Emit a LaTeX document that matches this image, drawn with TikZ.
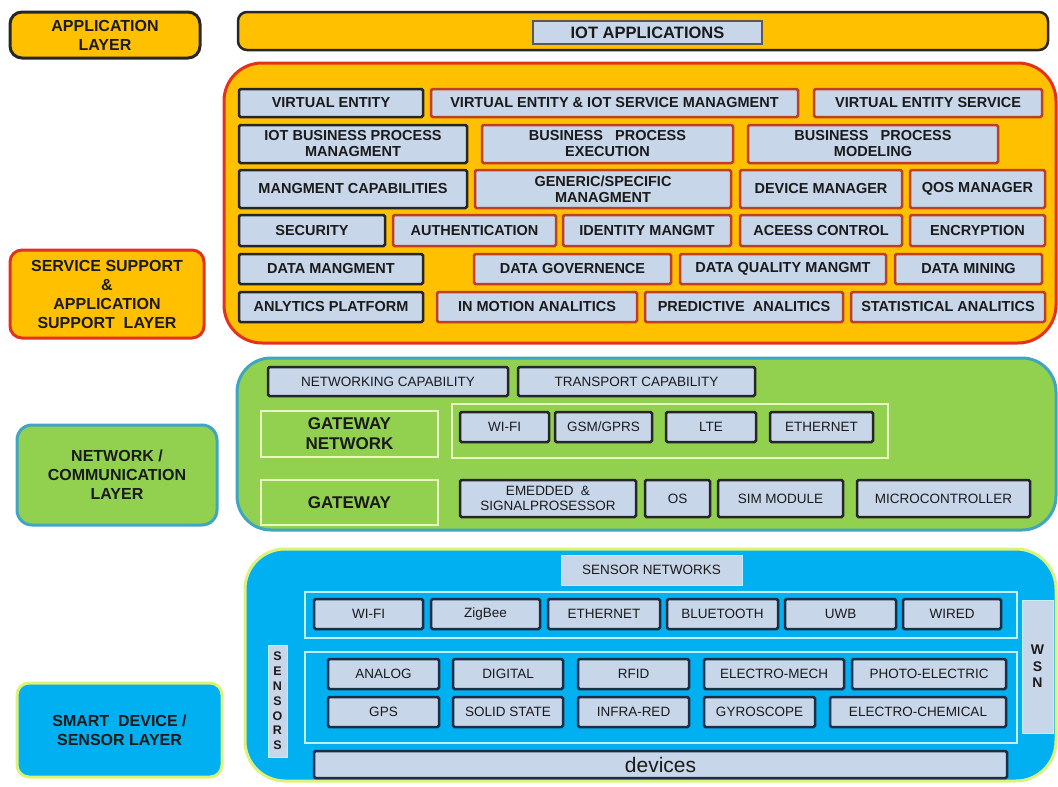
\documentclass[tikz,border=0pt]{standalone}
\usepackage{fontspec}
\setmainfont{Liberation Sans}
\definecolor{orangefill}{HTML}{FFC000}
\definecolor{redline}{HTML}{E2321C}
\definecolor{redbox}{HTML}{BE3F22}
\definecolor{darkline}{HTML}{262626}
\definecolor{greenfill}{HTML}{92D050}
\definecolor{tealline}{HTML}{3FA6C2}
\definecolor{bluefill}{HTML}{00B0F0}
\definecolor{limeline}{HTML}{DCF27A}
\definecolor{boxblue}{HTML}{C8D6EA}
\definecolor{paleline}{HTML}{EAF7C2}
\definecolor{cyanline}{HTML}{C2EEFA}
\definecolor{navyline}{HTML}{1B2E45}
\definecolor{textdark}{HTML}{1A1A1A}

% place a rectangular node by its corner coordinates
\newcommand{\bx}[7]{%
  \node[#2, minimum width={#5-#3}, minimum height={#6-#4}]
    (#1) at ({(#3+#5)/2},{(#4+#6)/2}) {#7};}

\begin{document}
\begin{tikzpicture}[x=1pt,y=-1pt,
  every node/.style={inner sep=0pt, outer sep=0pt, align=center, text=textdark},
  layerlabel/.style={rounded corners=12pt, line width=3pt,
    font=\fontsize{16}{19}\selectfont\bfseries},
  layerbox/.style={rounded corners=38pt, line width=3pt},
  svcdark/.style={fill=boxblue, draw=darkline, line width=2.5pt, rounded corners=1.5pt,
    font=\fontsize{14.5}{16}\selectfont\bfseries},
  svcred/.style={svcdark, draw=redbox},
  netbox/.style={fill=boxblue, draw=darkline, line width=2.5pt, rounded corners=1.5pt,
    font=\fontsize{13.5}{15}\selectfont},
  gwframe/.style={draw=paleline, line width=2pt,
    font=\fontsize{17}{20}\selectfont\bfseries},
  senbox/.style={fill=boxblue, draw=navyline, line width=2.5pt, rounded corners=1.5pt,
    font=\fontsize{13.5}{15}\selectfont},
  senframe/.style={draw=cyanline, line width=2.5pt},
  tab/.style={fill=boxblue, draw=cyanline, line width=1pt,
    font=\fontsize{13.5}{15}\selectfont},
  vtab/.style={fill=boxblue, draw=cyanline, line width=1pt,
    font=\fontsize{14}{16.5}\selectfont\bfseries}
]
\useasboundingbox[fill=white] (0,0) rectangle (1058,787);

% ---------------- layer names ----------------
\bx{appl}{layerlabel, fill=orangefill, draw=darkline}{10}{12}{200}{58}{APPLICATION\\LAYER}
\bx{svcl}{layerlabel, fill=orangefill, draw=redline}{10}{250}{204}{338}{SERVICE SUPPORT\\\&\\APPLICATION\\SUPPORT\ \ LAYER}
\bx{netl}{layerlabel, fill=greenfill, draw=tealline, rounded corners=15pt}{17}{425}{217}{525}{NETWORK /\\COMMUNICATION\\LAYER}
\bx{devl}{layerlabel, fill=bluefill, draw=limeline}{17}{683}{222}{777}{SMART\ \ DEVICE /\\SENSOR LAYER}

% ---------------- application layer ----------------
\bx{appbar}{fill=orangefill, draw=darkline, line width=2.5pt, rounded corners=9pt}{238}{12}{1048}{50}{}
\bx{iotapp}{fill=boxblue, draw=black!65, line width=2.5pt, font=\fontsize{16.5}{19}\selectfont\bfseries}{533}{21}{762}{44}{IOT APPLICATIONS}

% ---------------- service support layer ----------------
\bx{svc}{layerbox, fill=orangefill, draw=redline}{224}{63}{1056}{343}{}

\bx{ve}{svcdark}{239}{89}{423}{117}{VIRTUAL ENTITY}
\bx{vem}{svcred}{431}{89}{798}{117}{VIRTUAL ENTITY \& IOT SERVICE MANAGMENT}
\bx{ves}{svcred}{814}{89}{1042}{117}{VIRTUAL ENTITY SERVICE}

\bx{bpm}{svcdark}{239}{125}{467}{163}{IOT BUSINESS PROCESS\\MANAGMENT}
\bx{bpe}{svcred}{482}{125}{733}{163}{BUSINESS\ \ \ PROCESS\\EXECUTION}
\bx{bpmod}{svcred}{748}{125}{998}{163}{BUSINESS\ \ \ PROCESS\\MODELING}

\bx{mcap}{svcdark}{239}{170}{467}{208}{MANGMENT CAPABILITIES}
\bx{gsm}{svcred}{475}{170}{731}{208}{GENERIC/SPECIFIC\\MANAGMENT}
\bx{devm}{svcred}{740}{170}{902}{208}{DEVICE MANAGER}
\bx{qos}{svcred}{910}{170}{1045}{208}{QOS MANAGER}

\bx{sec}{svcdark}{239}{215}{385}{246}{SECURITY}
\bx{auth}{svcred}{393}{215}{556}{246}{AUTHENTICATION}
\bx{idm}{svcred}{563}{215}{731}{246}{IDENTITY MANGMT}
\bx{acc}{svcred}{740}{215}{902}{246}{ACEESS CONTROL}
\bx{enc}{svcred}{910}{215}{1045}{246}{ENCRYPTION}

\bx{dm}{svcdark}{239}{254}{423}{284}{DATA MANGMENT}
\bx{dg}{svcred}{474}{254}{671}{284}{DATA GOVERNENCE}
\bx{dq}{svcred}{680}{254}{886}{284}{DATA QUALITY MANGMT}
\bx{dmin}{svcred}{895}{254}{1042}{284}{DATA MINING}

\bx{ap}{svcdark}{239}{292}{423}{322}{ANLYTICS PLATFORM}
\bx{ima}{svcred}{437}{292}{637}{322}{IN MOTION ANALITICS}
\bx{pa}{svcred}{645}{292}{843}{322}{PREDICTIVE\ \ ANALITICS}
\bx{sa}{svcred}{851}{292}{1045}{322}{STATISTICAL ANALITICS}

% ---------------- network / communication layer ----------------
\bx{net}{layerbox, rounded corners=34pt, fill=greenfill, draw=tealline}{237}{358}{1056}{530}{}

\bx{ncap}{netbox}{268}{367}{508}{396}{NETWORKING CAPABILITY}
\bx{tcap}{netbox}{518}{367}{755}{396}{TRANSPORT CAPABILITY}

\bx{gwn}{gwframe}{261}{411}{438}{457}{GATEWAY\\NETWORK}
\bx{gwnset}{gwframe}{452}{404}{888}{458}{}
\bx{nwifi}{netbox}{460}{412}{549}{442}{WI-FI}
\bx{ngsm}{netbox}{555}{412}{652}{442}{GSM/GPRS}
\bx{nlte}{netbox}{666}{412}{756}{442}{LTE}
\bx{neth}{netbox}{770}{412}{873}{442}{ETHERNET}

\bx{gw}{gwframe}{261}{480}{438}{525}{GATEWAY}
\bx{emb}{netbox}{460}{480}{636}{517}{EMEDDED\ \ \&\\SIGNALPROSESSOR}
\bx{os}{netbox}{645}{480}{710}{517}{OS}
\bx{sim}{netbox}{718}{480}{843}{517}{SIM MODULE}
\bx{mcu}{netbox}{857}{480}{1030}{517}{MICROCONTROLLER}

% ---------------- smart device / sensor layer ----------------
\bx{dev}{layerbox, rounded corners=40pt, fill=bluefill, draw=limeline}{245}{549}{1056}{781}{}

\bx{snet}{tab}{561}{555}{742}{585}{SENSOR NETWORKS}

\bx{wlset}{senframe}{305}{592}{1017}{638}{}
\bx{swifi}{senbox}{314}{599}{423}{629}{WI-FI}
\bx{zig}{senbox}{431}{599}{540}{629}{ZigBee}
\bx{seth}{senbox}{548}{599}{660}{629}{ETHERNET}
\bx{bt}{senbox}{667}{599}{778}{629}{BLUETOOTH}
\bx{uwb}{senbox}{785}{599}{896}{629}{UWB}
\bx{wired}{senbox}{903}{599}{1001}{629}{WIRED}

\bx{wsn}{vtab}{1022}{600}{1053}{733}{W\\S\\N}
\bx{sens}{vtab, font=\fontsize{12.5}{14.8}\selectfont\bfseries}{268}{645}{287}{757}{S\\E\\N\\S\\O\\R\\S}

\bx{senset}{senframe}{305}{652}{1017}{743}{}
\bx{ana}{senbox}{328}{659}{439}{689}{ANALOG}
\bx{dig}{senbox}{453}{659}{563}{689}{DIGITAL}
\bx{rfid}{senbox}{578}{659}{689}{689}{RFID}
\bx{emech}{senbox}{704}{659}{844}{689}{ELECTRO-MECH}
\bx{phel}{senbox}{852}{659}{1006}{689}{PHOTO-ELECTRIC}

\bx{gps}{senbox}{328}{697}{439}{727}{GPS}
\bx{sst}{senbox}{453}{697}{563}{727}{SOLID STATE}
\bx{ir}{senbox}{578}{697}{689}{727}{INFRA-RED}
\bx{gyro}{senbox}{704}{697}{815}{727}{GYROSCOPE}
\bx{echem}{senbox}{830}{697}{1006}{727}{ELECTRO-CHEMICAL}

\bx{devices}{senbox, font=\fontsize{21}{24}\selectfont}{314}{751}{1007}{778}{devices}
\end{tikzpicture}
\end{document}
